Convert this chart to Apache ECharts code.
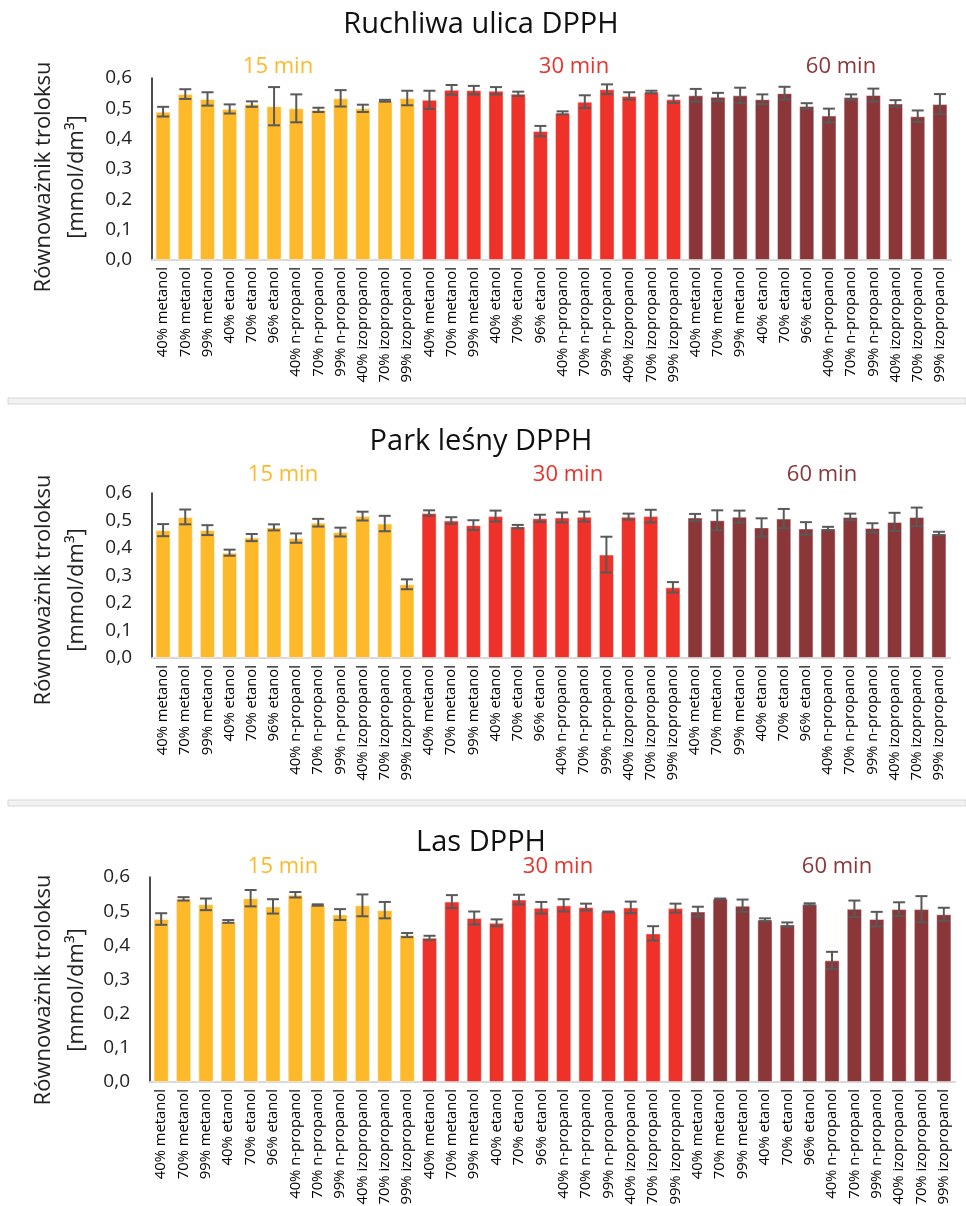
<!DOCTYPE html>
<html>
<head>
    <meta charset="utf-8">
</head>
<body style="margin: 0; background: #fff">
    <div id="container" style="width: 966px; height: 1206px"></div>
    <script src="https://cdn.jsdelivr.net/npm/echarts@6/dist/echarts.min.js"></script>
    <script type="text/javascript">
        // rozpuszczalniki - ta sama lista w każdej grupie czasowej
        var solvents = ['40% metanol', '70% metanol', '99% metanol', '40% etanol', '70% etanol', '96% etanol',
            '40% n-propanol', '70% n-propanol', '99% n-propanol', '40% izopropanol', '70% izopropanol', '99% izopropanol'];
        var times = ['15 min', '30 min', '60 min'];
        var timeColors = ['#FDB92A', '#EE3129', '#8B3739'];
        var yTicks = [0, 0.1, 0.2, 0.3, 0.4, 0.5, 0.6];

        var ulicaMean = [0.489, 0.547, 0.531, 0.498, 0.514, 0.507, 0.500, 0.495, 0.533, 0.500, 0.525, 0.534,
            0.528, 0.561, 0.560, 0.558, 0.548, 0.425, 0.485, 0.522, 0.563, 0.541, 0.554, 0.530,
            0.543, 0.538, 0.543, 0.530, 0.550, 0.508, 0.476, 0.537, 0.544, 0.516, 0.474, 0.514];
        var ulicaErr = [0.016, 0.016, 0.022, 0.015, 0.009, 0.063, 0.046, 0.007, 0.027, 0.012, 0.003, 0.024,
            0.030, 0.016, 0.014, 0.012, 0.007, 0.017, 0.005, 0.021, 0.016, 0.012, 0.004, 0.012,
            0.021, 0.013, 0.025, 0.016, 0.021, 0.009, 0.023, 0.009, 0.021, 0.011, 0.019, 0.033];

        var parkMean = [0.465, 0.513, 0.465, 0.383, 0.438, 0.475, 0.436, 0.492, 0.458, 0.516, 0.489, 0.268,
            0.527, 0.500, 0.483, 0.516, 0.478, 0.508, 0.511, 0.514, 0.376, 0.514, 0.516, 0.257,
            0.511, 0.501, 0.514, 0.475, 0.507, 0.471, 0.471, 0.513, 0.473, 0.495, 0.513, 0.453];
        var parkErr = [0.022, 0.027, 0.018, 0.011, 0.013, 0.011, 0.017, 0.014, 0.016, 0.016, 0.028, 0.018,
            0.010, 0.012, 0.018, 0.020, 0.006, 0.013, 0.018, 0.018, 0.065, 0.011, 0.023, 0.019,
            0.013, 0.036, 0.022, 0.033, 0.035, 0.023, 0.006, 0.012, 0.017, 0.033, 0.034, 0.006];

        var lasMean = [0.477, 0.536, 0.520, 0.470, 0.538, 0.514, 0.548, 0.518, 0.490, 0.517, 0.503, 0.430,
            0.422, 0.528, 0.480, 0.466, 0.534, 0.510, 0.517, 0.512, 0.498, 0.511, 0.435, 0.509,
            0.499, 0.536, 0.516, 0.475, 0.461, 0.520, 0.356, 0.507, 0.477, 0.506, 0.506, 0.491];
        var lasErr = [0.017, 0.005, 0.017, 0.004, 0.024, 0.021, 0.008, 0.002, 0.016, 0.032, 0.024, 0.006,
            0.006, 0.019, 0.019, 0.010, 0.014, 0.017, 0.018, 0.010, 0.001, 0.017, 0.021, 0.013,
            0.014, 0.001, 0.018, 0.004, 0.006, 0.003, 0.025, 0.024, 0.021, 0.020, 0.038, 0.019];

        var categories = [];
        times.forEach(function () { categories = categories.concat(solvents); });

        // układ paneli
        var panels = [
            { title: 'Ruchliwa ulica DPPH', mean: ulicaMean, err: ulicaErr,
              top: 78, height: 182, left: 152, right: 15, titleY: 25, groupY: 67, groupX: [278, 574, 841], nameY: 177 },
            { title: 'Park leśny DPPH', mean: parkMean, err: parkErr,
              top: 493, height: 165, left: 152, right: 16, titleY: 442, groupY: 475, groupX: [283, 568, 822], nameY: 590 },
            { title: 'Las DPPH', mean: lasMean, err: lasErr,
              top: 877, height: 205, left: 150, right: 11, titleY: 843, groupY: 867, groupX: [283, 558, 837], nameY: 990 }
        ];

        var font = '"Open Sans", sans-serif';
        var grids = [], xAxes = [], yAxes = [], series = [], graphics = [];

        panels.forEach(function (p, k) {
            grids.push({ left: p.left, right: p.right, top: p.top, height: p.height, outerBoundsMode: 'none', containLabel: false });
            xAxes.push({
                type: 'category', gridIndex: k, data: categories,
                axisLine: { lineStyle: { color: '#D9D9D9', width: 2 } },
                axisTick: { show: false },
                axisLabel: { interval: 0, rotate: 90, margin: 7, fontSize: 14.8, fontFamily: font, color: '#000' }
            });
            yAxes.push({
                type: 'value', gridIndex: k, min: 0, max: 0.6, interval: 0.1,
                splitLine: { show: false },
                axisTick: { show: false },
                axisLine: { show: true, lineStyle: { color: '#111', width: 1.5 } },
                axisLabel: {
                    margin: 20, fontSize: 19, fontFamily: font, color: '#222',
                    formatter: function (v) { return v.toFixed(1).replace('.', ','); }
                }
            });
            series.push({
                type: 'bar', xAxisIndex: k, yAxisIndex: k,
                barCategoryGap: '32%',
                data: p.mean.map(function (v, i) {
                    return { value: v, itemStyle: { color: timeColors[Math.floor(i / 12)] } };
                }),
                itemStyle: { borderColor: 'rgba(255,255,255,0.45)', borderWidth: 1 }
            });
            series.push({
                type: 'custom', xAxisIndex: k, yAxisIndex: k, z: 5,
                data: p.mean.map(function (v, i) { return [i, v - p.err[i], v + p.err[i]]; }),
                encode: { x: 0, y: [1, 2] },
                renderItem: function (params, api) {
                    var lo = api.coord([api.value(0), api.value(1)]);
                    var hi = api.coord([api.value(0), api.value(2)]);
                    var c = 6;
                    var st = { stroke: '#595959', lineWidth: 2 };
                    return {
                        type: 'group', children: [
                            { type: 'line', shape: { x1: lo[0], y1: lo[1], x2: hi[0], y2: hi[1] }, style: st },
                            { type: 'line', shape: { x1: lo[0] - c, y1: lo[1], x2: lo[0] + c, y2: lo[1] }, style: st },
                            { type: 'line', shape: { x1: hi[0] - c, y1: hi[1], x2: hi[0] + c, y2: hi[1] }, style: st }
                        ]
                    };
                }
            });

            graphics.push({
                type: 'text', x: 481, y: p.titleY,
                style: { text: p.title, font: '29px ' + font, fill: '#111', align: 'center', verticalAlign: 'middle', textAlign: 'center', textVerticalAlign: 'middle' }
            });
            times.forEach(function (t, g) {
                graphics.push({
                    type: 'text', x: p.groupX[g], y: p.groupY,
                    style: { text: t, font: '22px ' + font, fill: timeColors[g], align: 'center', verticalAlign: 'middle', textAlign: 'center', textVerticalAlign: 'middle' }
                });
            });
            graphics.push({
                type: 'text', x: 60, y: p.nameY, rotation: Math.PI / 2,
                style: { text: 'Równoważnik troloksu\n[mmol/dm³]', font: '22px ' + font, lineHeight: 33, fill: '#222', align: 'center', verticalAlign: 'middle', textAlign: 'center', textVerticalAlign: 'middle' }
            });
        });

        // separatory między panelami
        [398, 800].forEach(function (y) {
            graphics.push({ type: 'rect', shape: { x: 8, y: y, width: 958, height: 6 }, style: { fill: '#F2F2F2', stroke: '#D6D6D6', lineWidth: 1 } });
        });

        var myChart = echarts.init(document.getElementById('container'));
        var option = {
            animation: false,
            backgroundColor: '#fff',
            grid: grids,
            xAxis: xAxes,
            yAxis: yAxes,
            series: series,
            graphic: graphics
        };
        myChart.setOption(option, true);
    </script>
</body>
</html>
